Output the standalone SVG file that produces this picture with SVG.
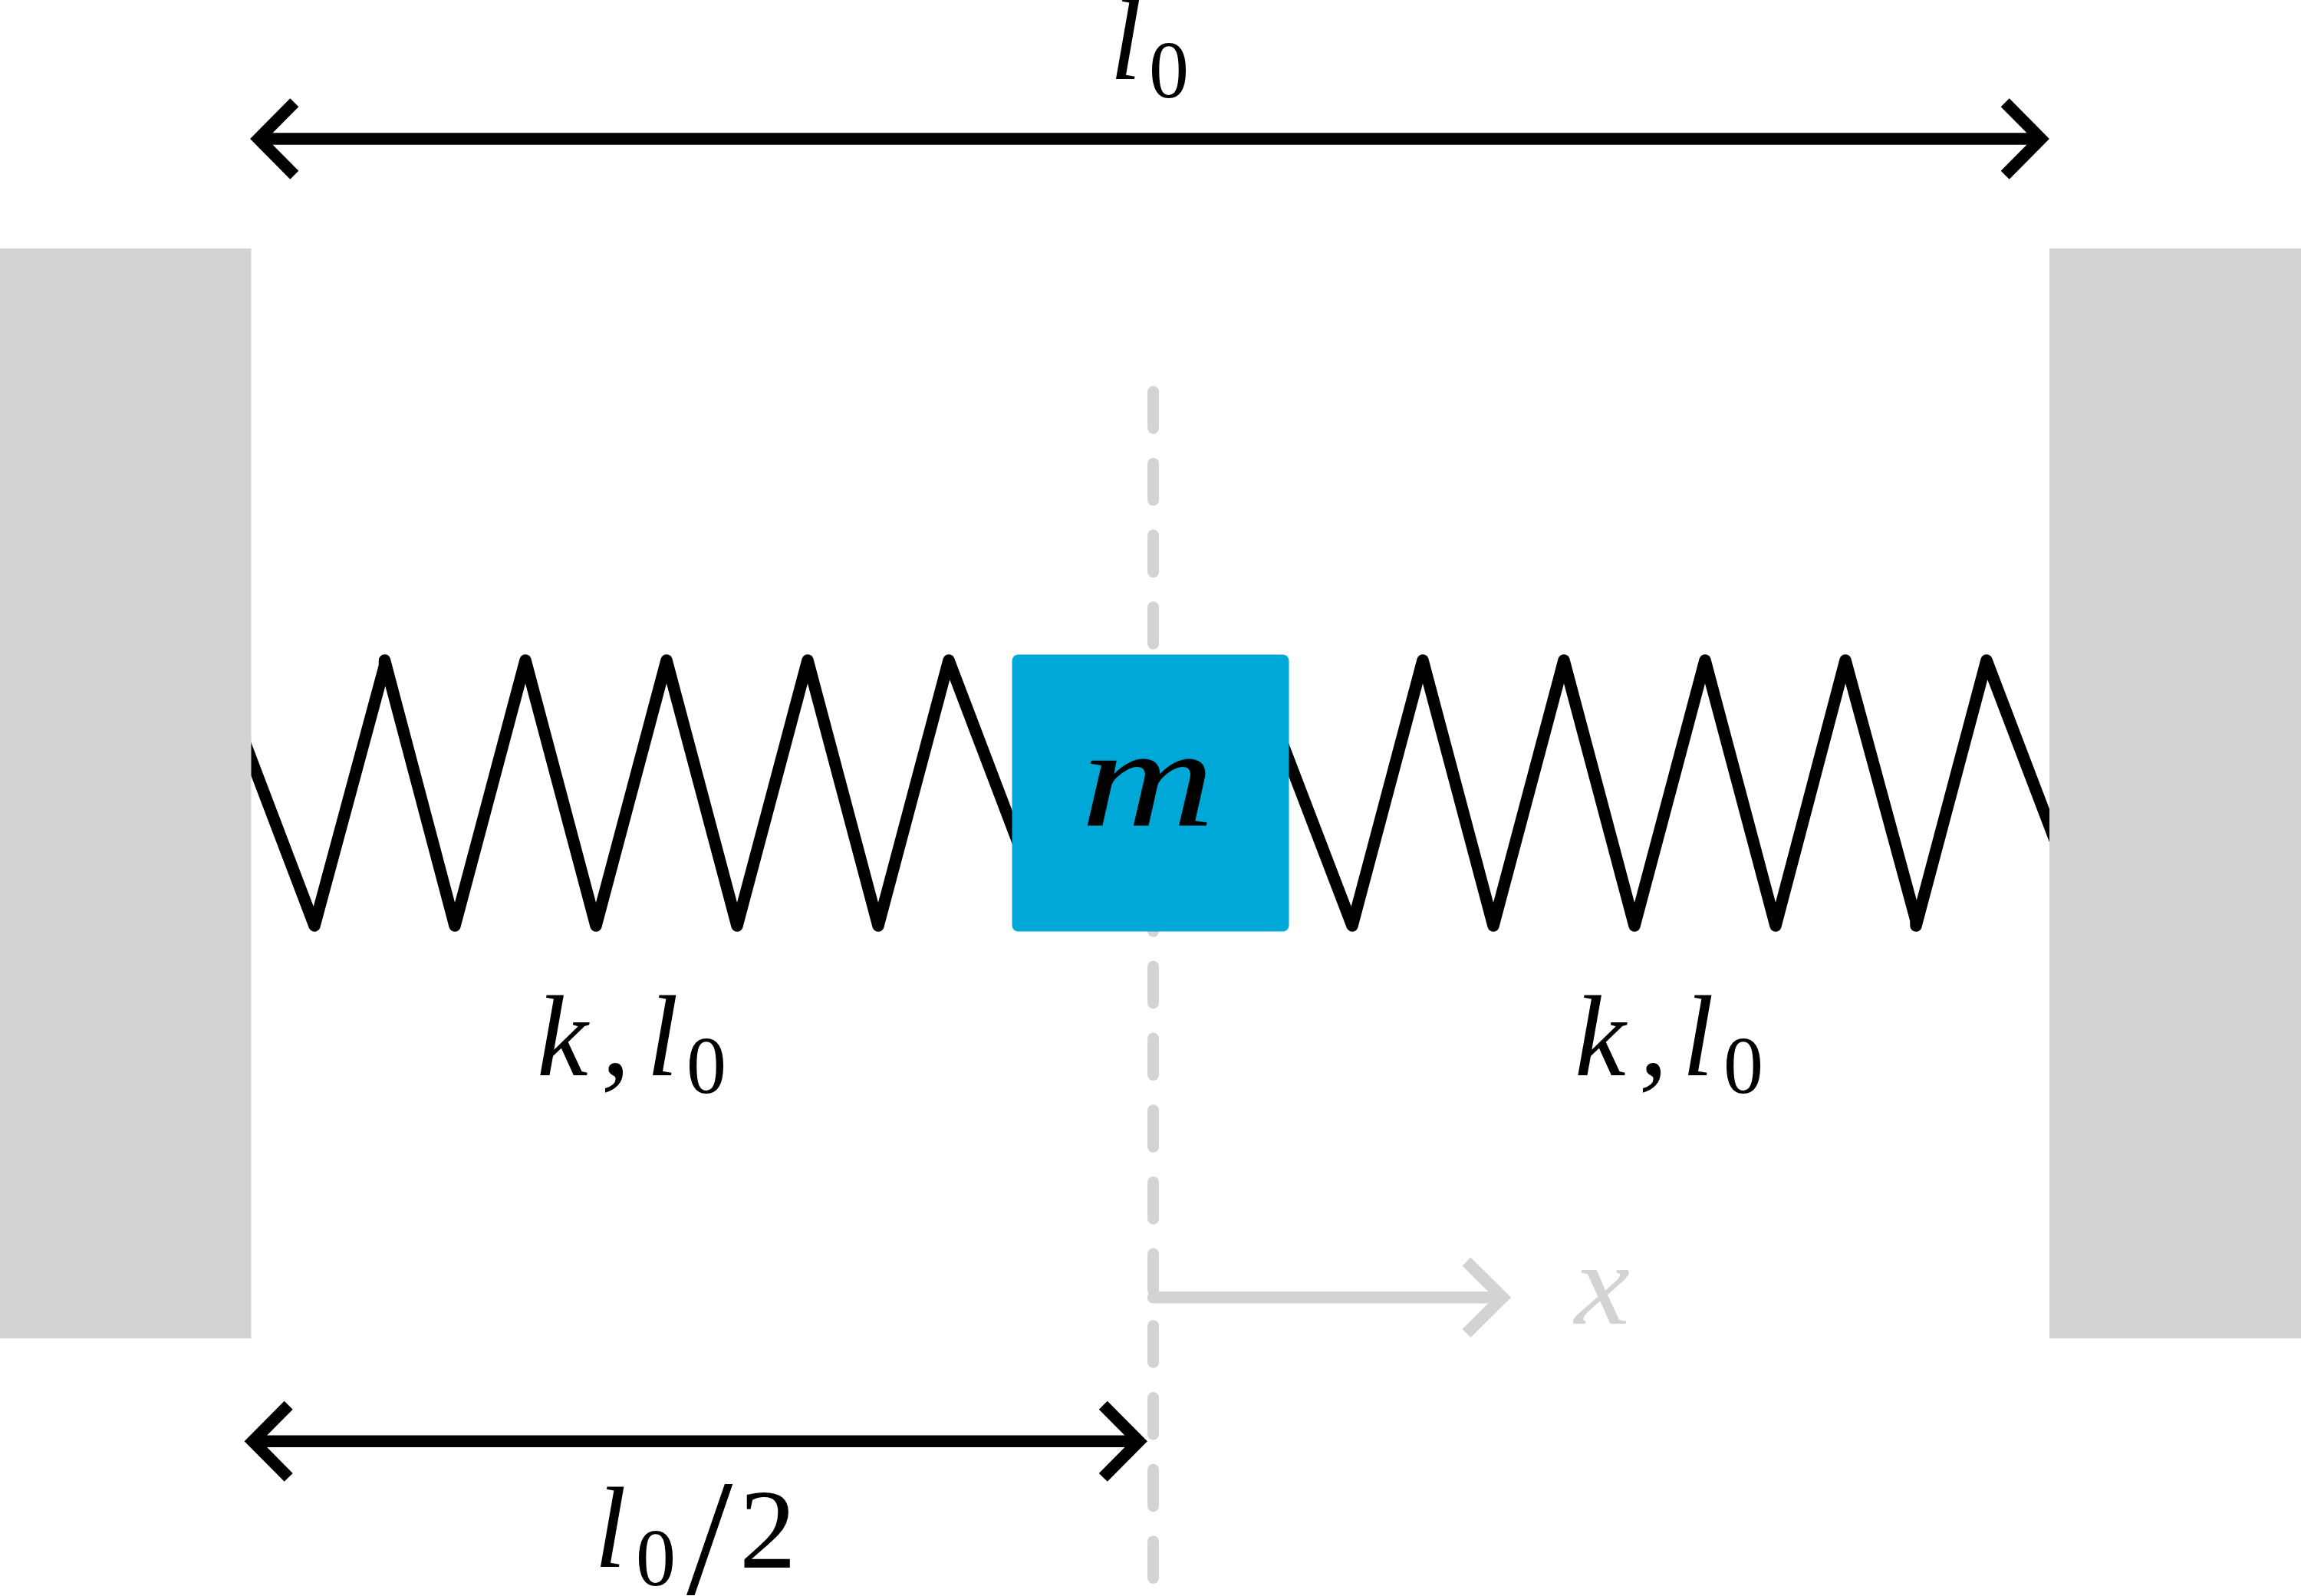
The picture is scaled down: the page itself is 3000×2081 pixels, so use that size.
<svg xmlns="http://www.w3.org/2000/svg" width="3000" height="2081" viewBox="0 0 3000 2081">
<style>
.bg{fill:#fff}
.wall{fill:#d3d3d3}
.block{fill:#00a8d8}
.spring{fill:none;stroke:#000;stroke-width:15.500;stroke-linejoin:round;stroke-linecap:round}
.dim{fill:none;stroke:#000;stroke-width:15.500;stroke-linejoin:miter;stroke-miterlimit:10}
.axis{fill:none;stroke:#d3d3d3;stroke-width:15.500}
.dash{stroke-linecap:round;stroke-dasharray:47.5 46.2;stroke-width:15}
.t{font-family:"Liberation Serif","Times New Roman",serif;fill:#000}
.i{font-style:italic}
.g{fill:#d3d3d3}
.l{font-size:150px}
.s{font-size:106px}
</style>
<rect class="bg" width="3000" height="2081"/>
<g id="connectors">
<path id="axis-dashed" class="axis dash" d="M1503.600 510.700V2060"/>
<path id="spring-left" class="spring" d="M310 944L410 1207L501.500 868V861L593 1207L685 861L777 1207L869 861L961 1207L1053 861L1145 1207L1237 861L1340 1132"/>
<path id="spring-right" class="spring" d="M1660 938L1763 1207L1855 861L1947 1207L2039 861L2131 1207L2223 861L2315 1207L2406 861L2498 1200V1207L2590 861L2700 1150"/>
<path id="dim-top-line" class="dim" d="M337 181H2661"/>
<path id="dim-top-left" class="dim" d="M383.800 133.700L337 181L383.800 228.300"/>
<path id="dim-top-right" class="dim" d="M2614.200 133.700L2661 181L2614.200 228.300"/>
<path id="dim-half-line" class="dim" d="M329.500 1879.300H1485"/>
<path id="dim-half-left" class="dim" d="M376.200 1832.200L329.500 1879.300L376.200 1926.400"/>
<path id="dim-half-right" class="dim" d="M1438.300 1832.200L1485 1879.300L1438.300 1926.400"/>
<path id="axis-x-line" class="axis" stroke-linecap="round" d="M1503.600 1691.700H1959"/>
<path id="axis-x-head" class="axis" d="M1912 1645L1959 1691.700L1912 1738.400"/>
</g>
<g id="wall-left"><rect class="wall" x="0" y="324" width="327.500" height="1421"/></g>
<g id="wall-right"><rect class="wall" x="2672" y="324" width="328" height="1421"/></g>
<g id="mass">
<rect class="block" x="1319.500" y="853.500" width="361" height="361" rx="8"/>
<text class="t i" x="1409" y="1076" font-size="184" textLength="175" lengthAdjust="spacingAndGlyphs">m</text>
</g>
<g id="label-l0">
<text class="t i l" x="1447" y="103">l</text>
<text class="t s" x="1498" y="126.500" textLength="52" lengthAdjust="spacingAndGlyphs">0</text>
</g>
<g id="label-k-left">
<text class="t i l" x="700" y="1402">k</text>
<text class="t i l" x="784" y="1402">,</text>
<text class="t i l" x="843" y="1402">l</text>
<text class="t s" x="895" y="1424.500" textLength="52" lengthAdjust="spacingAndGlyphs">0</text>
</g>
<g id="label-k-right">
<text class="t i l" x="2053" y="1402">k</text>
<text class="t i l" x="2137" y="1402">,</text>
<text class="t i l" x="2193" y="1402">l</text>
<text class="t s" x="2247" y="1424.500" textLength="52" lengthAdjust="spacingAndGlyphs">0</text>
</g>
<g id="label-x">
<text class="t i g" x="2053" y="1726" font-size="153" textLength="72" lengthAdjust="spacingAndGlyphs">x</text>
</g>
<g id="label-half">
<text class="t i l" x="775" y="2043">l</text>
<text class="t s" x="829" y="2066.500" textLength="52" lengthAdjust="spacingAndGlyphs">0</text>
<text class="t" x="895" y="2078" font-size="217">/</text>
<text class="t" x="964" y="2044" font-size="148">2</text>
</g>
</svg>
